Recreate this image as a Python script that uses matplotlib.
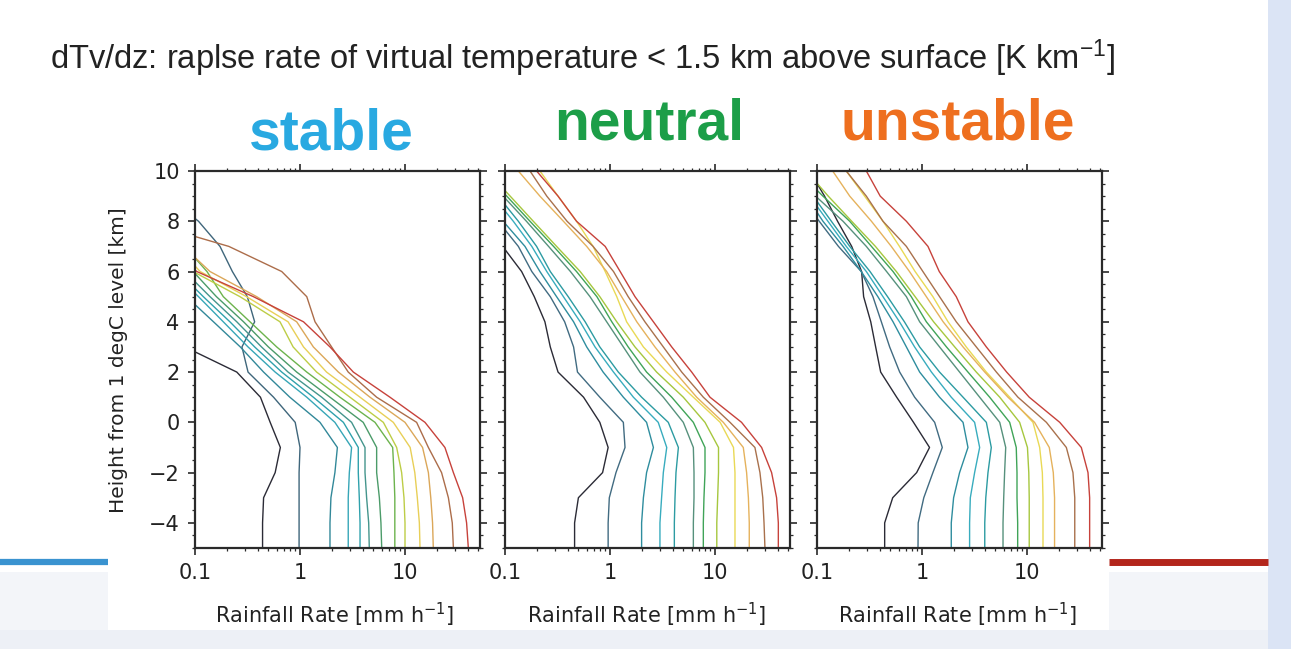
import numpy as np
import matplotlib
matplotlib.use("Agg")
import matplotlib.pyplot as plt
from matplotlib.colors import LinearSegmentedColormap
from matplotlib.patches import Rectangle
from matplotlib.lines import Line2D
from matplotlib.ticker import LogLocator, MultipleLocator, NullFormatter

nan = np.nan

# ---------------- data ----------------
heights = list(range(-5, 11))  # km from 1 degC level

stable = [
    [0.44, 0.44, 0.45, 0.58, 0.65, 0.52, 0.42, 0.25, 0.08, nan, nan, nan, nan, nan, nan, nan],
    [0.98, 0.98, 0.98, 0.98, 1.0, 0.90, 0.56, 0.32, 0.28, 0.37, 0.315, 0.227, 0.173, 0.108, 0.054, nan],
    [1.93, 1.93, 1.97, 2.15, 2.27, 1.55, 0.80, 0.45, 0.27, 0.15, 0.083, nan, nan, nan, nan, nan],
    [2.88, 2.88, 2.88, 2.95, 3.10, 2.15, 1.16, 0.58, 0.32, 0.186, 0.108, 0.062, nan, nan, nan, nan],
    [3.73, 3.73, 3.67, 3.59, 3.59, 2.59, 1.34, 0.67, 0.37, 0.215, 0.12, 0.069, nan, nan, nan, nan],
    [4.57, 4.51, 4.31, 4.16, 4.16, 3.10, 1.61, 0.77, 0.43, 0.25, 0.139, 0.08, nan, nan, nan, nan],
    [6.0, 5.9, 5.7, 5.37, 5.37, 4.0, 1.93, 0.93, 0.50, 0.29, 0.16, 0.096, nan, nan, nan, nan],
    [8.0, 8.0, 8.0, 7.85, 7.63, 5.18, 2.40, 1.16, 0.60, 0.334, 0.186, 0.13, 0.08, nan, nan, nan],
    [10.0, 10.0, 9.78, 9.29, 8.33, 6.22, 2.99, 1.44, 0.86, 0.645, 0.268, 0.096, nan, nan, nan, nan],
    [13.9, 13.7, 13.1, 12.4, 11.2, 7.74, 3.73, 1.79, 1.08, 0.77, 0.31, 0.112, 0.067, nan, nan, nan],
    [18.6, 18.3, 17.6, 16.7, 14.7, 10.0, 4.64, 2.32, 1.34, 0.93, 0.387, 0.139, 0.077, nan, nan, nan],
    [28.9, 28.2, 25.9, 22.3, 16.7, 12.9, 5.37, 2.88, 2.0, 1.39, 1.16, 0.67, 0.21, 0.032, nan, nan],
    [40.1, 38.6, 35.4, 28.9, 24.0, 15.5, 7.19, 3.22, 1.93, 1.08, 0.36, 0.104, 0.054, nan, nan, nan],
]

neutral = [
    [0.46, 0.46, 0.50, 0.85, 0.96, 0.80, 0.56, 0.32, 0.27, 0.24, 0.19, 0.144, 0.095, nan, nan, nan],
    [0.96, 0.96, 0.985, 1.14, 1.39, 1.34, 0.80, 0.49, 0.45, 0.37, 0.27, 0.18, 0.134, 0.086, nan, nan],
    [2.0, 2.0, 2.08, 2.23, 2.59, 2.23, 1.34, 0.86, 0.60, 0.45, 0.31, 0.215, 0.155, 0.096, nan, nan],
    [2.99, 2.99, 3.1, 3.22, 3.47, 2.88, 1.67, 1.08, 0.72, 0.52, 0.36, 0.25, 0.18, 0.12, 0.077, nan],
    [4.1, 4.1, 4.16, 4.25, 4.48, 3.59, 2.0, 1.2, 0.80, 0.58, 0.40, 0.27, 0.20, 0.134, 0.086, nan],
    [6.22, 6.22, 6.31, 6.31, 6.22, 4.99, 3.22, 1.93, 1.34, 0.93, 0.645, 0.42, 0.26, 0.16, 0.096, nan],
    [7.74, 7.74, 7.85, 8.03, 8.03, 6.22, 3.87, 2.23, 1.49, 1.04, 0.75, 0.48, 0.29, 0.173, 0.104, 0.06],
    [10.4, 10.4, 10.6, 10.8, 10.8, 8.03, 4.99, 2.78, 1.73, 1.16, 0.80, 0.52, 0.31, 0.186, 0.112, 0.067],
    [15.5, 15.5, 15.5, 15.5, 15.0, 11.2, 6.22, 3.47, 2.08, 1.44, 1.16, 0.90, 0.69, 0.48, 0.32, 0.215],
    [21.2, 21.2, 20.8, 20.0, 18.6, 12.0, 6.69, 4.16, 2.68, 1.80, 1.29, 0.93, 0.60, 0.36, 0.215, 0.134],
    [29.9, 29.3, 28.5, 26.8, 24.0, 13.9, 7.74, 4.82, 3.22, 2.15, 1.49, 1.08, 0.69, 0.39, 0.25, 0.173],
    [40.1, 40.1, 38.6, 34.6, 27.8, 17.9, 8.96, 6.0, 3.87, 2.59, 1.73, 1.25, 0.90, 0.48, 0.32, 0.20],
]

unstable = [
    [0.441, 0.441, 0.526, 0.889, 1.18, 0.83, 0.574, 0.404, 0.362, 0.325, 0.278, 0.266, 0.214, 0.157, 0.118, 0.085],
    [0.916, 0.92, 1.04, 1.27, 1.56, 1.32, 0.851, 0.613, 0.492, 0.41, 0.341, 0.264, 0.16, 0.105, 0.07, nan],
    [1.90, 1.90, 2.0, 2.28, 2.74, 2.46, 1.47, 0.95, 0.71, 0.53, 0.38, 0.264, 0.177, 0.114, 0.079, nan],
    [2.84, 2.84, 2.885, 3.17, 3.54, 3.17, 1.90, 1.23, 0.85, 0.61, 0.425, 0.295, 0.19, 0.127, 0.085, nan],
    [3.96, 3.96, 4.05, 4.25, 4.57, 4.10, 2.46, 1.47, 0.95, 0.68, 0.47, 0.32, 0.205, 0.137, 0.092, nan],
    [5.91, 5.91, 6.0, 6.12, 6.27, 5.5, 3.54, 2.28, 1.47, 0.95, 0.71, 0.46, 0.295, 0.177, 0.097, nan],
    [8.15, 8.15, 8.03, 8.03, 7.9, 6.84, 4.41, 2.74, 1.71, 1.10, 0.79, 0.53, 0.33, 0.205, 0.114, 0.065],
    [10.5, 10.5, 10.5, 10.4, 10.1, 8.51, 5.5, 3.29, 2.05, 1.29, 0.86, 0.57, 0.36, 0.214, 0.128, 0.079],
    [14.2, 14.2, 14.2, 14.0, 13.2, 11.4, 6.84, 4.10, 2.64, 1.77, 1.27, 0.86, 0.61, 0.425, 0.284, 0.19],
    [18.3, 18.3, 18.3, 17.8, 16.3, 11.8, 6.59, 3.96, 2.46, 1.59, 1.10, 0.76, 0.51, 0.33, 0.205, 0.141],
    [28.5, 28.5, 28.5, 27.4, 23.7, 15.3, 8.2, 5.11, 3.29, 2.12, 1.47, 1.02, 0.71, 0.425, 0.295, 0.19],
    [39.5, 39.5, 39.5, 38.1, 32.9, 20.5, 10.5, 6.4, 4.10, 2.74, 2.12, 1.46, 1.14, 0.71, 0.40, 0.295],
]

panel_data = [stable, neutral, unstable]
panel_titles = ["stable", "neutral", "unstable"]
panel_title_colors = ["#29a9e1", "#1c9e48", "#ee6f1f"]

x_tick_values = [0.1, 1, 10]
x_tick_labels = ["0.1", "1", "10"]
y_tick_values = [-4, -2, 0, 2, 4, 6, 8, 10]

title_text = "dTv/dz: raplse rate of virtual temperature < 1.5 km above surface [K km$^{-1}$]"
xlabel_text = "Rainfall Rate [mm h$^{-1}$]"
ylabel_text = "Height from 1 degC level [km]"

line_palette = ["#2b2b36", "#416c82", "#2e8e9e", "#38adbf", "#2b9ba2", "#56917c",
                "#40a458", "#a7c73e", "#e9da55", "#e6b35c", "#a9714c", "#c7423b"]

# ---------------- figure ----------------
W, H = 1291, 649
plt.rcParams["mathtext.default"] = "regular"
fig = plt.figure(figsize=(W / 100, H / 100), dpi=100)
fig.patch.set_facecolor("white")

def fx(x):
    return x / W

def fy(y):
    return 1 - y / H

# slide background decorations (drawn beneath the axes)
def bg_rect(x0, y_top, x1, y_bot, col):
    fig.patches.append(Rectangle((fx(x0), fy(y_bot)), fx(x1 - x0), (y_bot - y_top) / H,
                                 transform=fig.transFigure, facecolor=col,
                                 edgecolor="none", zorder=-5))

bg_rect(1268, 0, W, H, "#dbe4f5")
bg_rect(0, 630, 1268, H, "#edf0f6")
bg_rect(0, 572, 108, 630, "#f3f5f9")
bg_rect(1109, 572, 1268, 630, "#f3f5f9")
fig.lines.append(Line2D([0, fx(108)], [fy(562), fy(562)], transform=fig.transFigure,
                        color="#3a93d0", lw=4.5, solid_capstyle="butt", zorder=-4))
fig.lines.append(Line2D([fx(1109), fx(1268)], [fy(562), fy(562)], transform=fig.transFigure,
                        color="#b3261c", lw=5.0, solid_capstyle="butt", zorder=-4))

fig.text(fx(50), fy(58), title_text, ha="left", va="center", fontsize=23.5,
         family="Liberation Sans", color="#222222")

cmap = LinearSegmentedColormap.from_list("rr", line_palette)

axes_left_px = [195, 505, 817]
ax_w_px, ax_top_px, ax_bot_px = 285, 171, 548
title_pos = [(331, 150), (649, 140), (958, 140)]
xlabel_x = [335, 647, 958]

spine_col = "#2a2a2a"
for i, (data, name, tcol) in enumerate(zip(panel_data, panel_titles, panel_title_colors)):
    ax = fig.add_axes([fx(axes_left_px[i]), fy(ax_bot_px), fx(ax_w_px), (ax_bot_px - ax_top_px) / H])
    n = len(data)
    for k, rates in enumerate(data):
        ax.plot(rates, heights, color=cmap(k / (n - 1)), lw=1.0, solid_joinstyle="round")
    ax.set_xscale("log")
    ax.set_xlim(0.1, 10 ** (ax_w_px / 105 - 1))
    ax.set_ylim(-5, 10)
    ax.set_xticks(x_tick_values)
    ax.set_xticklabels(x_tick_labels)
    ax.xaxis.set_minor_locator(LogLocator(base=10, subs=range(2, 10)))
    ax.xaxis.set_minor_formatter(NullFormatter())
    ax.set_yticks(y_tick_values)
    ax.yaxis.set_minor_locator(MultipleLocator(0.5))
    ax.tick_params(which="both", direction="out", top=True, right=True, color=spine_col,
                   labelcolor="#222222")
    ax.tick_params(which="major", length=5, width=1.2, labelsize=15, pad=6)
    ax.tick_params(which="minor", length=2.5, width=0.9)
    if i > 0:
        ax.tick_params(labelleft=False)
    for s in ax.spines.values():
        s.set_color(spine_col)
        s.set_linewidth(1.6)
    fig.text(fx(title_pos[i][0]), fy(title_pos[i][1]), name, ha="center", va="baseline",
             fontsize=41, fontweight="bold", family="Liberation Sans", color=tcol)
    fig.text(fx(xlabel_x[i]), fy(615), xlabel_text, ha="center", va="center",
             fontsize=15, color="#222222")

fig.text(fx(119), fy(360), ylabel_text, ha="center", va="center", rotation=90,
         fontsize=14.5, color="#222222")

fig.savefig("out.png", dpi=100)
